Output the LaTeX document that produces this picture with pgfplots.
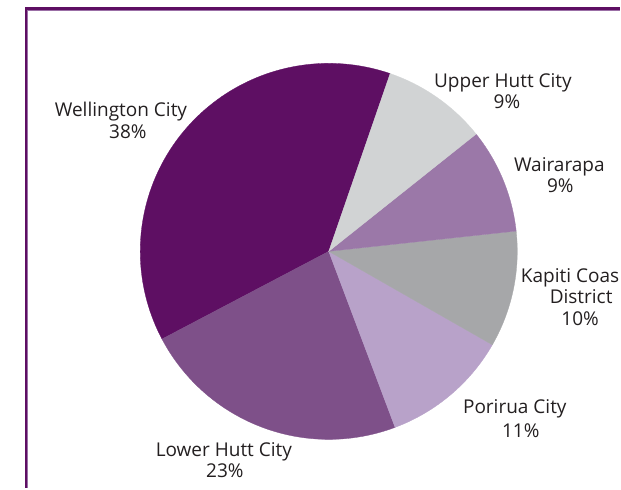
\documentclass[border=0pt]{standalone}
\usepackage{pgfplots}
\usepackage{pgfplotstable}
\pgfplotsset{compat=1.18}
\usepackage{fontspec}
\setmainfont{Open Sans}
\definecolor{slice0}{HTML}{5E0F63}
\definecolor{slice1}{HTML}{7E5089}
\definecolor{slice2}{HTML}{B8A2C9}
\definecolor{slice3}{HTML}{A6A7A9}
\definecolor{slice4}{HTML}{9B78A8}
\definecolor{slice5}{HTML}{D1D3D4}
\definecolor{frameDark}{HTML}{5E0F63}
\definecolor{frameLight}{HTML}{9B6FA6}
\definecolor{txt}{HTML}{231F20}
\pgfplotstableread{
name value
Wellington 38
LowerHutt 23
Porirua 11
Kapiti 10
Wairarapa 9
UpperHutt 9
}\piedata
\begin{document}
\xdef\acc{71}
\pgfplotsforeachungrouped \i in {0,...,5}{%
  \pgfplotstablegetelem{\i}{value}\of\piedata
  \pgfmathsetmacro\a{\acc}%
  \pgfmathsetmacro\b{\acc+3.6*\pgfplotsretval}%
  \expandafter\xdef\csname sa\i\endcsname{\a}%
  \expandafter\xdef\csname ea\i\endcsname{\b}%
  \xdef\acc{\b}%
}
\begin{tikzpicture}
\begin{axis}[
  width=621pt, height=493pt, scale only axis,
  xmin=0, xmax=621, ymin=0, ymax=493,
  hide axis, clip=false,
]
\path (axis cs:0,0) rectangle (axis cs:621,493);
\pgfplotsinvokeforeach{0,...,5}{
  \addplot[fill=slice#1, draw=slice#1, line width=0.3pt, domain=\csname sa#1\endcsname:\csname ea#1\endcsname, samples=90]
    ({327+190.5*cos(x)},{239+190*sin(x)}) -- (axis cs:327,239) -- cycle;
}
\addplot[frameDark, line width=2.6pt] coordinates {(21,0) (21,484.3) (621,484.3)};
\addplot[frameLight, line width=1pt] coordinates {(22.8,0) (22.8,482.5) (621,482.5)};
\begin{scope}[every node/.style={anchor=base, text=txt, font=\fontsize{19.2}{22}\selectfont, inner sep=0pt}]
\node at (axis cs:117,375) {Wellington City};
\node at (axis cs:124,353) {38\%};
\node at (axis cs:503,405) {Upper Hutt City};
\node at (axis cs:507,383) {9\%};
\node at (axis cs:560,320) {Wairarapa};
\node at (axis cs:561,298) {9\%};
\node[anchor=base west] at (axis cs:521,208) {Kapiti Coas};
\node at (axis cs:582,186) {District};
\node at (axis cs:581,164) {10\%};
\node at (axis cs:515,75) {Porirua City};
\node at (axis cs:521,51) {11\%};
\node at (axis cs:221,32) {Lower Hutt City};
\node at (axis cs:222,11) {23\%};
\end{scope}
\end{axis}
\end{tikzpicture}
\end{document}
